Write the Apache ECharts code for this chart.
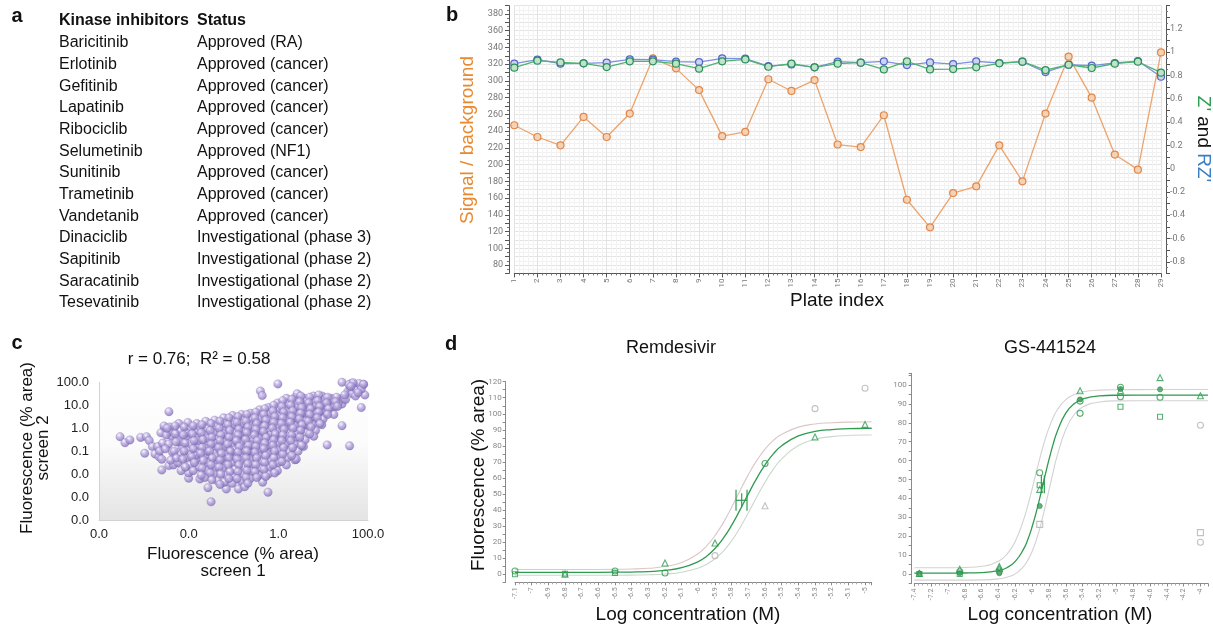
<!DOCTYPE html>
<html>
<head>
<meta charset="utf-8">
<script src="https://cdn.jsdelivr.net/npm/echarts@6.0.0/dist/echarts.min.js"></script>
<title>kinase inhibitor screen</title>
<style>
* {margin:0; padding:0;}
body {background:#fff;}
#fig {width:1213px; height:628px;}
</style>
</head>
<body>
<div id="fig"></div>
<script>
// ---- a: table ----
var inhibitors = ['Baricitinib','Erlotinib','Gefitinib','Lapatinib','Ribociclib','Selumetinib','Sunitinib',
  'Trametinib','Vandetanib','Dinaciclib','Sapitinib','Saracatinib','Tesevatinib'];
var statuses = ['Approved (RA)','Approved (cancer)','Approved (cancer)','Approved (cancer)','Approved (cancer)',
  'Approved (NF1)','Approved (cancer)','Approved (cancer)','Approved (cancer)','Investigational (phase 3)',
  'Investigational (phase 2)','Investigational (phase 2)','Investigational (phase 2)'];

// ---- b: plate QC ----
var plates = [1,2,3,4,5,6,7,8,9,10,11,12,13,14,15,16,17,18,19,20,21,22,23,24,25,26,27,28,29];
var signalBg = [247,233,223,257,233,261,327,315,289,234,239,302,288,301,224,221,259,158,125,166,174,223,180,261,329,280,212,194,334];
var zPrime = [0.867,0.927,0.912,0.904,0.872,0.921,0.921,0.901,0.858,0.921,0.938,0.875,0.901,0.87,0.901,
  0.91,0.852,0.921,0.852,0.855,0.87,0.904,0.918,0.846,0.892,0.864,0.901,0.918,0.824];
var robustZ = [0.901,0.936,0.901,0.904,0.91,0.938,0.936,0.918,0.915,0.947,0.944,0.881,0.895,0.87,0.918,
  0.91,0.921,0.889,0.912,0.898,0.921,0.907,0.918,0.829,0.892,0.884,0.907,0.924,0.789];

// ---- c: screen 1 vs screen 2, log10 of % area ----
var screenPairsLog = [
  [-3.53,-0.37],[-3.42,-0.63],[-3.31,-0.51],[-3.07,-0.40],[-2.94,-0.37],[-2.88,-0.54],[-2.98,-1.09],[-2.81,-0.80],
  [-2.75,-1.12],[-2.66,-1.24],[-2.69,-0.80],[-2.60,-1.82],[-2.44,-1.63],[-2.34,-1.60],[-2.44,0.72],[-2.54,0.0],
  [-2.0,-2.18],[-1.75,-2.21],[-1.57,-2.59],[-1.50,-3.21],[-1.16,-2.65],[-0.89,-2.65],[-0.23,-2.79],[0.37,-1.38],
  [1.09,-0.73],[1.59,-0.77],[1.42,0.11],[1.85,0.90],[1.93,1.45],[1.90,1.91],[1.42,2.0],[1.63,1.96],[-0.01,1.93],
  [-0.40,1.62],[-0.36,1.42],
  [-2.62,-0.2],[-2.58,-0.65],[-2.55,0.1],[-2.65,-1.0],[-2.6,-1.35],
  [-2.42,0.05],[-2.38,-0.35],[-2.45,-0.7],[-2.36,-1.05],[-2.4,-1.4],[-2.43,-0.15],
  [-2.22,0.2],[-2.18,-0.1],[-2.25,-0.45],[-2.15,-0.8],[-2.2,-1.15],[-2.24,-1.5],[-2.17,-1.85],[-2.2,-0.6],
  [-2.02,0.25],[-1.98,-0.05],[-2.05,-0.35],[-1.95,-0.7],[-2.0,-1.0],[-2.03,-1.3],[-1.97,-1.6],[-2.0,-1.95],[-2.05,-0.2],[-1.96,-1.15],
  [-1.82,0.2],[-1.78,-0.1],[-1.85,-0.4],[-1.76,-0.75],[-1.8,-1.05],[-1.83,-1.35],[-1.77,-1.7],[-1.8,-0.55],[-1.85,-1.2],[-1.75,0.05],
  [-1.62,0.3],[-1.58,0.0],[-1.65,-0.3],[-1.56,-0.6],[-1.6,-0.9],[-1.63,-1.2],[-1.57,-1.5],[-1.6,-1.85],[-1.64,-2.15],[-1.55,-0.45],[-1.6,-1.0],
  [-1.42,0.35],[-1.38,0.1],[-1.45,-0.2],[-1.36,-0.5],[-1.4,-0.8],[-1.43,-1.1],[-1.37,-1.4],[-1.4,-1.7],[-1.44,-2.0],[-1.35,-2.3],[-1.41,-0.65],[-1.38,-1.25],
  [-1.22,0.45],[-1.18,0.2],[-1.25,-0.1],[-1.16,-0.35],[-1.2,-0.6],[-1.23,-0.9],[-1.17,-1.15],[-1.2,-1.45],[-1.24,-1.75],[-1.16,-2.05],[-1.2,-2.35],[-1.22,-0.25],[-1.15,-0.8],[-1.25,-1.3],
  [-1.02,0.55],[-0.98,0.3],[-1.05,0.05],[-0.96,-0.2],[-1.0,-0.45],[-1.03,-0.7],[-0.97,-0.95],[-1.0,-1.2],[-1.04,-1.5],[-0.96,-1.8],[-1.0,-2.1],[-1.03,-2.4],[-0.95,-0.55],[-1.05,-1.05],[-0.98,0.15],
  [-0.82,0.6],[-0.78,0.35],[-0.85,0.1],[-0.76,-0.15],[-0.8,-0.4],[-0.83,-0.65],[-0.77,-0.9],[-0.8,-1.15],[-0.84,-1.4],[-0.76,-1.7],[-0.8,-2.0],[-0.83,-2.3],[-0.75,-2.55],[-0.86,-0.3],[-0.74,-1.0],[-0.8,0.2],
  [-0.62,0.65],[-0.58,0.4],[-0.65,0.15],[-0.56,-0.1],[-0.6,-0.35],[-0.63,-0.6],[-0.57,-0.85],[-0.6,-1.1],[-0.64,-1.35],[-0.56,-1.6],[-0.6,-1.9],[-0.63,-2.2],[-0.55,-0.5],[-0.66,-1.0],[-0.58,0.0],[-0.61,-0.75],
  [-0.42,0.8],[-0.38,0.55],[-0.45,0.3],[-0.36,0.05],[-0.4,-0.2],[-0.43,-0.45],[-0.37,-0.7],[-0.4,-0.95],[-0.44,-1.2],[-0.36,-1.45],[-0.4,-1.75],[-0.43,-2.05],[-0.35,-2.35],[-0.46,-0.1],[-0.34,-0.85],[-0.41,0.4],
  [-0.22,0.9],[-0.18,0.65],[-0.25,0.4],[-0.16,0.15],[-0.2,-0.1],[-0.23,-0.35],[-0.17,-0.6],[-0.2,-0.85],[-0.24,-1.1],[-0.16,-1.4],[-0.2,-1.7],[-0.22,-2.0],[-0.15,-0.25],[-0.26,-0.75],[-0.19,0.3],
  [-0.02,1.1],[0.02,0.85],[-0.05,0.6],[0.04,0.35],[0.0,0.1],[-0.03,-0.15],[0.03,-0.4],[0.0,-0.65],[-0.04,-0.9],[0.04,-1.2],[0.0,-1.5],[-0.02,-1.85],[0.05,0.5],[-0.06,-0.3],[0.02,-1.0],
  [0.18,1.3],[0.22,1.05],[0.15,0.8],[0.24,0.55],[0.2,0.3],[0.17,0.05],[0.23,-0.2],[0.2,-0.45],[0.16,-0.7],[0.24,-1.0],[0.2,-1.3],[0.18,-1.6],[0.25,0.7],[0.14,0.2],[0.21,-0.35],
  [0.38,1.35],[0.42,1.1],[0.35,0.85],[0.44,0.6],[0.4,0.35],[0.37,0.1],[0.43,-0.15],[0.4,-0.4],[0.36,-0.7],[0.44,-1.0],[0.4,-1.35],[0.45,0.95],[0.34,0.45],[0.41,-0.25],[0.42,1.5],
  [0.58,1.3],[0.62,1.05],[0.55,0.8],[0.64,0.55],[0.6,0.3],[0.57,0.05],[0.63,-0.2],[0.6,-0.5],[0.56,-0.8],[0.65,1.2],[0.54,0.65],[0.61,0.15],
  [0.78,1.4],[0.82,1.15],[0.75,0.9],[0.84,0.65],[0.8,0.4],[0.77,0.15],[0.83,-0.1],[0.79,-0.35],[0.85,1.0],[0.74,0.5],
  [0.98,1.4],[1.02,1.15],[0.95,0.9],[1.04,0.65],[1.0,0.4],[0.97,0.15],[1.05,1.3],[0.94,0.75],
  [1.18,1.3],[1.22,1.1],[1.15,0.85],[1.24,0.6],[1.2,1.25],[1.26,0.95],
  [1.38,1.25],[1.42,1.05],[1.35,1.15],[1.45,1.3],
  [1.55,1.6],[1.6,1.75],[1.65,1.5],[1.7,1.85],[1.75,1.65],[1.8,1.95],[1.72,1.4],[1.58,1.9],[1.85,1.7],[1.67,1.98],
  [1.9,1.91],[1.62,1.82],[1.78,1.55],
  [-2.5,-0.3],[-2.52,-0.9],[-2.48,0.0],
  [-2.3,-0.25],[-2.28,-0.6],[-2.32,-1.0],[-2.3,0.1],[-2.27,-1.3],
  [-2.1,0.05],[-2.12,-0.3],[-2.08,-0.65],[-2.1,-1.0],[-2.13,-1.35],[-2.07,-1.7],
  [-1.9,0.1],[-1.92,-0.25],[-1.88,-0.55],[-1.9,-0.9],[-1.93,-1.25],[-1.87,-1.5],[-1.9,-1.85],
  [-1.7,0.15],[-1.72,-0.2],[-1.68,-0.5],[-1.7,-0.85],[-1.73,-1.1],[-1.67,-1.4],[-1.7,-1.75],[-1.72,-2.05],
  [-1.5,0.2],[-1.52,-0.1],[-1.48,-0.4],[-1.5,-0.7],[-1.53,-1.0],[-1.47,-1.3],[-1.5,-1.6],[-1.52,-1.95],[-1.48,-2.25],
  [-1.3,0.3],[-1.32,0.0],[-1.28,-0.3],[-1.3,-0.55],[-1.33,-0.85],[-1.27,-1.1],[-1.3,-1.4],[-1.32,-1.7],[-1.28,-2.0],[-1.3,-2.45],
  [-1.1,0.45],[-1.12,0.15],[-1.08,-0.1],[-1.1,-0.4],[-1.13,-0.7],[-1.07,-1.0],[-1.1,-1.3],[-1.12,-1.6],[-1.08,-1.9],[-1.1,-2.2],
  [-0.9,0.5],[-0.92,0.25],[-0.88,-0.05],[-0.9,-0.3],[-0.93,-0.55],[-0.87,-0.8],[-0.9,-1.05],[-0.92,-1.35],[-0.88,-1.6],[-0.9,-1.9],[-0.92,-2.2],
  [-0.7,0.6],[-0.72,0.3],[-0.68,0.05],[-0.7,-0.2],[-0.73,-0.5],[-0.67,-0.75],[-0.7,-1.0],[-0.72,-1.3],[-0.68,-1.55],[-0.7,-1.85],[-0.72,-2.15],[-0.68,-2.4],
  [-0.5,0.7],[-0.52,0.45],[-0.48,0.2],[-0.5,-0.05],[-0.53,-0.3],[-0.47,-0.55],[-0.5,-0.8],[-0.52,-1.05],[-0.48,-1.3],[-0.5,-1.6],[-0.52,-1.9],[-0.48,-2.15],
  [-0.3,0.85],[-0.32,0.6],[-0.28,0.35],[-0.3,0.1],[-0.33,-0.15],[-0.27,-0.4],[-0.3,-0.65],[-0.32,-0.9],[-0.28,-1.2],[-0.3,-1.5],[-0.32,-1.8],[-0.28,-2.1],
  [-0.1,1.0],[-0.12,0.75],[-0.08,0.5],[-0.1,0.25],[-0.13,0.0],[-0.07,-0.25],[-0.1,-0.5],[-0.12,-0.75],[-0.08,-1.0],[-0.1,-1.3],[-0.12,-1.6],[-0.08,-1.95],
  [0.1,1.2],[0.08,0.95],[0.12,0.7],[0.1,0.45],[0.07,0.2],[0.13,-0.05],[0.1,-0.3],[0.08,-0.55],[0.12,-0.85],[0.1,-1.15],[0.08,-1.45],
  [0.3,1.25],[0.28,1.0],[0.32,0.75],[0.3,0.5],[0.27,0.25],[0.33,0.0],[0.3,-0.3],[0.28,-0.55],[0.32,-0.85],[0.3,-1.2],
  [0.5,1.4],[0.48,1.15],[0.52,0.9],[0.5,0.65],[0.47,0.4],[0.53,0.15],[0.5,-0.1],[0.48,-0.4],[0.52,-0.75],
  [0.7,1.35],[0.68,1.1],[0.72,0.85],[0.7,0.6],[0.67,0.3],[0.73,0.05],[0.7,-0.25],
  [0.9,1.45],[0.88,1.2],[0.92,0.95],[0.9,0.7],[0.87,0.45],[0.93,0.2],
  [1.1,1.35],[1.08,1.1],[1.12,0.85],[1.1,0.6],
  [1.3,1.35],[1.28,1.15],[1.32,0.95],
  [1.5,1.25],[1.48,1.45]
];

// ---- d: dose response, Remdesivir ----
var remCircles = [[-7.1,2],[-6.5,2],[-6.2,0.8],[-5.6,69]];
var remSquares = [[-7.1,0],[-6.8,0.3],[-6.5,0.8]];
var remTriangles = [[-6.8,0],[-6.2,7],[-5.9,19.5],[-5.3,85.5],[-5.0,93.4]];
var remExcludedCircles = [[-5.9,11.6],[-5.3,103.2],[-5.0,115.9]];
var remExcludedTriangles = [[-5.6,42.7]];
var remCurveX = [-7.1,-6.9,-6.7,-6.5,-6.4,-6.3,-6.2,-6.1,-6.0,-5.95,-5.9,-5.85,-5.8,-5.75,-5.7,-5.65,-5.6,-5.55,-5.5,-5.4,-5.3,-5.2,-5.1,-5.0,-4.96];
var remFit   = [1.2,1.2,1.2,1.3,1.4,1.7,2.4,4.1,7.9,11.3,16.1,22.5,30.6,40.1,50.1,59.8,68.2,75.0,80.1,86.2,89.0,90.2,90.7,90.9,91.0];
var remUpper = [3.0,3.0,3.0,3.1,3.3,3.75,4.8,7.3,12.9,17.7,24.1,32.2,41.8,52.1,62.1,70.8,78.0,83.4,87.2,91.7,93.6,94.4,94.8,94.9,95.0];
var remLower = [-0.6,-0.6,-0.6,-0.6,-0.5,-0.3,0.2,1.3,3.9,6.2,9.7,14.5,20.9,29.0,38.3,48.1,57.4,65.5,71.9,80.2,84.1,85.8,86.5,86.8,86.8];
// [logEC50, y, ci low, ci high, cap half-height, centre half-height]
var remEc50 = [[-5.74, 46.1, -5.774, -5.708, 6.5, 4.4]];

// ---- d: dose response, GS-441524 ----
var gsCircles = [[-6.86,1.2],[-6.39,1.6],[-5.91,53.6],[-5.43,91.5],[-5.43,85.0],[-4.95,98.8],[-4.95,93.8],[-4.48,93.5]];
var gsDots = [[-7.34,0.4],[-6.86,0.5],[-6.39,0.4],[-5.91,36.0],[-5.43,92.4],[-4.95,97.9],[-4.48,97.7]];
var gsTriangles = [[-7.34,0.3],[-6.86,2.6],[-6.39,4.0],[-6.39,2.9],[-5.91,44.8],[-5.43,97.0],[-4.95,97.0],[-4.48,103.9],[-4.0,94.3]];
var gsSquares = [[-7.34,0],[-6.86,0],[-5.91,47],[-4.95,88.5],[-4.48,83.2]];
var gsExcludedCircles = [[-4.0,78.7],[-4.0,16.8]];
var gsExcludedSquares = [[-5.91,26.3],[-4.0,21.9]];
var gsCurveX = [-7.4,-7.2,-7.0,-6.8,-6.6,-6.4,-6.3,-6.2,-6.1,-6.05,-6.0,-5.95,-5.9,-5.85,-5.8,-5.75,-5.7,-5.6,-5.5,-5.4,-5.2,-5.0,-4.5,-4.0,-3.91];
var gsFit   = [0.5,0.5,0.5,0.55,0.76,1.8,3.35,6.7,13.3,18.4,25.0,32.9,41.9,51.4,60.5,68.7,75.6,85.1,90.1,92.6,94.3,94.6,94.7,94.7,94.7];
var gsUpper = [3.3,3.3,3.3,3.5,4.1,6.8,10.4,17.3,28.9,36.5,45.1,54.0,62.7,70.6,77.3,82.7,86.9,92.3,95.0,96.4,97.3,97.5,97.6,97.6,97.6];
var gsLower = [-3.2,-3.2,-3.2,-3.2,-3.1,-2.55,-1.7,0.1,4.1,7.4,11.9,18.0,25.6,34.5,44.3,53.9,62.9,76.5,84.4,88.4,91.0,91.6,91.7,91.7,91.7];
var gsEc50 = [[-5.873, 47.5, -5.89, -5.855, 4.7, 0]];

var FONT = '"Liberation Sans", Arial, sans-serif';
var TICKFONT = 'Roboto, "Liberation Sans", sans-serif';
var GREEN = '#2f9b50';
var GREY = '#b3b3b3';

function zip(xs, ys) { return xs.map(function (x, i) { return [x, ys[i]]; }); }
function logLabel(v) { return Math.pow(10, v).toFixed(1); }
function tenths(v) {
  var r = Math.round(v * 10) / 10;
  return Math.abs(v - r) > 1e-6 ? '' : String(r);
}
function fifths(v) {
  var r = Math.round(v * 5) / 5;
  return Math.abs(v - r) > 1e-6 ? '' : String(r);
}
function tensUpTo(maxv) {
  return function (v) {
    var r = Math.round(v);
    return (r % 10 === 0 && r >= 0 && r <= maxv) ? String(r) : '';
  };
}

function ecBar(params, api) {
  var y = api.value(1);
  var pL = api.coord([api.value(2), y]);
  var pR = api.coord([api.value(3), y]);
  var pC = api.coord([api.value(0), y]);
  var h = pC[1] - api.coord([api.value(0), y + api.value(4)])[1];
  var hm = pC[1] - api.coord([api.value(0), y + api.value(5)])[1];
  var st = {stroke: GREEN, lineWidth: 1.2, fill: null};
  return {type: 'group', children: [
    {type: 'line', shape: {x1: pL[0], y1: pL[1], x2: pR[0], y2: pR[1]}, style: st},
    {type: 'line', shape: {x1: pL[0], y1: pL[1] - h, x2: pL[0], y2: pL[1] + h}, style: st},
    {type: 'line', shape: {x1: pR[0], y1: pR[1] - h, x2: pR[0], y2: pR[1] + h}, style: st},
    {type: 'line', shape: {x1: pC[0], y1: pC[1] - hm, x2: pC[0], y2: pC[1] + hm}, style: st}
  ]};
}

function txt(x, y, text, size, opts) {
  opts = opts || {};
  return {
    type: 'text', x: x, y: y, rotation: opts.rotation || 0, silent: true, z: opts.z || 0,
    style: {
      text: text, fontSize: size, fontFamily: FONT, fontWeight: opts.bold ? 'bold' : 'normal',
      fill: opts.color || '#111', align: opts.align || 'center', verticalAlign: 'middle',
      lineHeight: opts.lineHeight, rich: opts.rich
    }
  };
}

// graphic texts
var texts = [];
texts.push(txt(17, 16, 'a', 20, {bold: true}));
texts.push(txt(452, 15, 'b', 20, {bold: true}));
texts.push(txt(17, 343, 'c', 20, {bold: true}));
texts.push(txt(451, 344, 'd', 20, {bold: true}));
texts.push(txt(59, 21, 'Kinase inhibitors', 16, {bold: true, align: 'left'}));
texts.push(txt(197, 21, 'Status', 16, {bold: true, align: 'left'}));
for (var i = 0; i < inhibitors.length; i++) {
  texts.push(txt(59, 43 + i * 21.67, inhibitors[i], 16, {align: 'left'}));
  texts.push(txt(197, 43 + i * 21.67, statuses[i], 16, {align: 'left'}));
}
texts.push(txt(468, 140, 'Signal / background', 19, {rotation: Math.PI / 2, color: '#e8892f'}));
texts.push(txt(1203, 139, "{g|Z'} and {b|RZ'}", 19, {rotation: -Math.PI / 2, rich: {
  g: {fill: '#2e9e52', fontSize: 19, fontFamily: FONT},
  b: {fill: '#3a7fc4', fontSize: 19, fontFamily: FONT}
}}));
texts.push(txt(837, 301, 'Plate index', 19));
texts.push(txt(199, 359, 'r = 0.76;  R\u00b2 = 0.58', 17));
texts.push(txt(35, 448, 'Fluorescence (% area)\nscreen 2', 17, {rotation: Math.PI / 2, lineHeight: 16}));
texts.push(txt(233, 563, 'Fluorescence (% area)\nscreen 1', 17, {lineHeight: 17}));
texts.push(txt(671, 348, 'Remdesivir', 18));
texts.push(txt(1050, 348, 'GS-441524', 18));
texts.push(txt(479, 475, 'Fluorescence (% area)', 19, {rotation: Math.PI / 2}));
texts.push(txt(688, 615, 'Log concentration (M)', 19));
texts.push(txt(1060, 615, 'Log concentration (M)', 19));

var dAxisLine = {show: true, onZero: false, lineStyle: {color: '#8a8a8a', width: 1}};
var dTick = {show: true, length: 3, lineStyle: {color: '#8a8a8a'}};
var dMinor = {show: true, splitNumber: 4, length: 2, lineStyle: {color: '#aaa'}};

function hollow(symbol, size, data, color, xi, yi) {
  return {
    type: 'scatter', xAxisIndex: xi, yAxisIndex: yi, symbol: symbol, symbolSize: size, data: data,
    itemStyle: {color: 'rgba(255,255,255,0)', borderColor: color, borderWidth: 1.1}, z: 5
  };
}
function curve(xs, ys, color, width, xi, yi) {
  return {
    type: 'line', xAxisIndex: xi, yAxisIndex: yi, data: zip(xs, ys), smooth: true, showSymbol: false,
    lineStyle: {color: color, width: width}, z: 3
  };
}
function qcLine(data, yi, line, border, fill) {
  return {
    type: 'line', xAxisIndex: 0, yAxisIndex: yi, data: data, symbol: 'circle', symbolSize: 7,
    showAllSymbol: true, lineStyle: {color: line, width: 1.3},
    itemStyle: {color: fill, borderColor: border, borderWidth: 1.2}
  };
}

var chart = echarts.init(document.getElementById('fig'));
chart.setOption({
  animation: false,
  grid: [
    {left: 514.3, top: 5.6, width: 646.7, height: 267.8},
    {left: 99, top: 382.3, width: 269, height: 137.7, show: true, borderWidth: 0,
      backgroundColor: {type: 'linear', x: 0, y: 0, x2: 0, y2: 1, colorStops: [
        {offset: 0, color: '#ffffff'}, {offset: 0.45, color: '#fbfbfb'}, {offset: 1, color: '#e4e4e4'}]}},
    {left: 515, top: 381.7, width: 356.7, height: 200.6},
    {left: 914.3, top: 373.3, width: 293.7, height: 210.2}
  ],
  xAxis: [
    {gridIndex: 0, type: 'value', min: 1, max: 29, interval: 1,
      axisLine: {show: true, onZero: false, lineStyle: {color: '#555'}},
      axisTick: {show: true, length: 4, lineStyle: {color: '#555'}},
      minorTick: {show: true, splitNumber: 5, length: 2, lineStyle: {color: '#777'}},
      axisLabel: {rotate: 90, fontSize: 8, color: '#777', fontFamily: TICKFONT, margin: 5},
      splitLine: {show: true, lineStyle: {color: '#e3e3e3'}},
      minorSplitLine: {show: true, lineStyle: {color: '#f2f2f2'}}},
    {gridIndex: 1, type: 'value', min: -4, max: 2, interval: 2,
      axisLine: {show: true, onZero: false, lineStyle: {color: '#d2d2d2'}},
      axisTick: {show: false}, splitLine: {show: false},
      axisLabel: {formatter: logLabel, fontSize: 13, color: '#222', fontFamily: FONT, margin: 8}},
    {gridIndex: 2, type: 'value', min: -7.1, max: -4.96, interval: 0.1,
      axisLine: dAxisLine, axisTick: dTick, minorTick: dMinor, splitLine: {show: false},
      axisLabel: {formatter: tenths, rotate: 90, fontSize: 7, color: '#888', fontFamily: TICKFONT, margin: 5}},
    {gridIndex: 3, type: 'value', min: -7.4, max: -3.91, interval: 0.2,
      axisLine: dAxisLine, axisTick: dTick, minorTick: dMinor, splitLine: {show: false},
      axisLabel: {formatter: fifths, rotate: 90, fontSize: 7, color: '#888', fontFamily: TICKFONT, margin: 5}}
  ],
  yAxis: [
    {gridIndex: 0, type: 'value', position: 'left', offset: 5.3, min: 70, max: 390, interval: 10,
      axisLine: {show: true, onZero: false, lineStyle: {color: '#555'}},
      axisTick: {show: true, length: 4, lineStyle: {color: '#555'}},
      minorTick: {show: true, splitNumber: 2, length: 2, lineStyle: {color: '#777'}},
      axisLabel: {fontSize: 9, color: '#777', fontFamily: TICKFONT, margin: 6,
        formatter: function (v) { return (v % 20 === 0 && v >= 80 && v <= 380) ? String(v) : ''; }},
      splitLine: {show: true, lineStyle: {color: '#e3e3e3'}},
      minorSplitLine: {show: true, splitNumber: 5, lineStyle: {color: '#f2f2f2'}}},
    {gridIndex: 0, type: 'value', position: 'right', offset: 5, min: -0.9, max: 1.4, interval: 0.1,
      axisLine: {show: true, onZero: false, lineStyle: {color: '#555'}},
      axisTick: {show: true, length: 4, lineStyle: {color: '#555'}},
      minorTick: {show: true, splitNumber: 2, length: 2, lineStyle: {color: '#777'}},
      splitLine: {show: false},
      axisLabel: {fontSize: 9, color: '#777', fontFamily: TICKFONT, margin: 4,
        formatter: function (v) {
          var t = Math.round(v * 10);
          return (t % 2 !== 0 || t < -8 || t > 12) ? '' : String(t / 10);
        }}},
    {gridIndex: 1, type: 'value', min: -4, max: 2, interval: 1,
      axisLine: {show: true, onZero: false, lineStyle: {color: '#d2d2d2'}},
      axisTick: {show: false}, splitLine: {show: false},
      axisLabel: {formatter: logLabel, fontSize: 13, color: '#222', fontFamily: FONT, margin: 10}},
    {gridIndex: 2, type: 'value', min: -5, max: 120, interval: 5, offset: 9.3,
      axisLine: dAxisLine, axisTick: dTick, splitLine: {show: false},
      axisLabel: {formatter: tensUpTo(120), fontSize: 8, color: '#888', fontFamily: TICKFONT, margin: 4}},
    {gridIndex: 3, type: 'value', min: -5, max: 106.2, interval: 5, offset: 2.6,
      axisLine: dAxisLine, axisTick: dTick, splitLine: {show: false},
      axisLabel: {formatter: tensUpTo(100), fontSize: 8, color: '#888', fontFamily: TICKFONT, margin: 5}}
  ],
  graphic: {elements: texts},
  series: [
    // b
    qcLine(zip(plates, signalBg), 0, '#eca46c', '#e0874a', '#f5d2b4'),
    qcLine(zip(plates, robustZ), 1, '#7d8fe0', '#5266c8', '#cdd4f3'),
    qcLine(zip(plates, zPrime), 1, '#4cb46f', '#2b8f5a', '#bfe3c9'),
    // c
    {type: 'scatter', xAxisIndex: 1, yAxisIndex: 2, data: screenPairsLog, symbolSize: 8.5,
      itemStyle: {
        color: {type: 'radial', x: 0.38, y: 0.32, r: 0.7, colorStops: [
          {offset: 0, color: '#f7f4ff'}, {offset: 0.4, color: '#b9aadf'}, {offset: 1, color: '#7d69b3'}]},
        borderColor: 'rgba(105,85,165,0.5)', borderWidth: 0.5
      }},
    // d Remdesivir
    curve(remCurveX, remUpper, '#dcc6c6', 1.1, 2, 3),
    curve(remCurveX, remLower, '#c9d9cb', 1.1, 2, 3),
    curve(remCurveX, remFit, GREEN, 1.3, 2, 3),
    hollow('circle', 6, remCircles, GREEN, 2, 3),
    hollow('rect', 5, remSquares, GREEN, 2, 3),
    hollow('triangle', 6, remTriangles, GREEN, 2, 3),
    hollow('circle', 6, remExcludedCircles, GREY, 2, 3),
    hollow('triangle', 6, remExcludedTriangles, GREY, 2, 3),
    {type: 'custom', xAxisIndex: 2, yAxisIndex: 3, renderItem: ecBar, data: remEc50, z: 6},
    // d GS-441524
    curve(gsCurveX, gsUpper, '#d2d2d2', 1.1, 3, 4),
    curve(gsCurveX, gsLower, '#d2d2d2', 1.1, 3, 4),
    curve(gsCurveX, gsFit, GREEN, 1.3, 3, 4),
    hollow('circle', 6, gsCircles, GREEN, 3, 4),
    {type: 'scatter', xAxisIndex: 3, yAxisIndex: 4, symbol: 'circle', symbolSize: 5, data: gsDots,
      itemStyle: {color: '#4a9a62', borderColor: GREEN, borderWidth: 1}, z: 5},
    hollow('triangle', 6, gsTriangles, GREEN, 3, 4),
    hollow('rect', 5, gsSquares, GREEN, 3, 4),
    hollow('circle', 6, gsExcludedCircles, GREY, 3, 4),
    hollow('rect', 6, gsExcludedSquares, GREY, 3, 4),
    {type: 'custom', xAxisIndex: 3, yAxisIndex: 4, renderItem: ecBar, data: gsEc50, z: 6}
  ]
});
</script>
</body>
</html>
